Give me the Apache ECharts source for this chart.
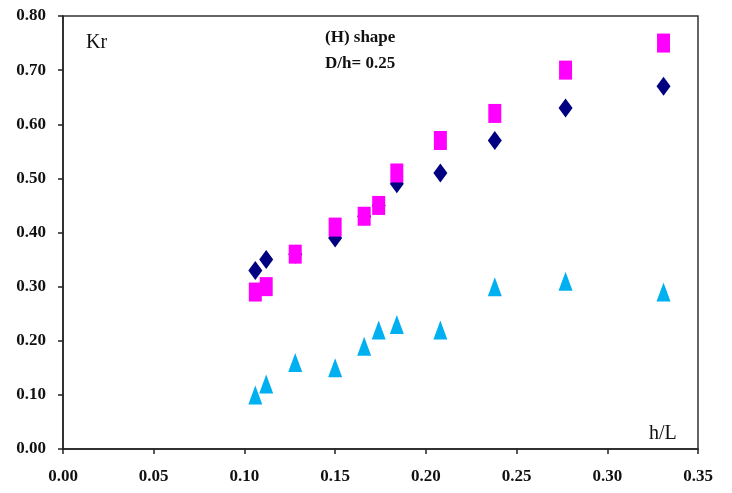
<!DOCTYPE html>
<html>
<head>
<meta charset="utf-8">
<script src="https://cdn.jsdelivr.net/npm/echarts@6/dist/echarts.min.js"></script>
<style>
  html, body { margin: 0; padding: 0; background: #fff; }
  #chart { width: 732px; height: 493px; }
</style>
</head>
<body>
<div id="chart"></div>
<script>
// h/L values shared by all three series
var hL = [0.106, 0.112, 0.128, 0.150, 0.166, 0.174, 0.184, 0.208, 0.238, 0.277, 0.331];
// Kr values (3rd, 5th, 6th diamonds sit behind the squares)
var krDiamond = [0.33, 0.35, 0.36, 0.39, 0.43, 0.45, 0.49, 0.51, 0.57, 0.63, 0.67];
var krSquare = [0.29, 0.30, 0.36, 0.41, 0.43, 0.45, 0.51, 0.57, 0.62, 0.70, 0.75];
var krTriangle = [0.10, 0.12, 0.16, 0.15, 0.19, 0.22, 0.23, 0.22, 0.30, 0.31, 0.29];

function pairs(ys) {
  return hL.map(function (x, i) { return [x, ys[i]]; });
}

var font = '"Liberation Serif", "DejaVu Serif", serif';
var chart = echarts.init(document.getElementById('chart'));

var option = {
  animation: false,
  grid: {
    left: 63, right: 34, top: 16, bottom: 44,
    show: true,
    borderColor: '#333',
    borderWidth: 1.5
  },
  xAxis: {
    type: 'value',
    min: 0, max: 0.35, interval: 0.05,
    axisLine: { show: true, lineStyle: { color: '#222', width: 1.5 } },
    axisTick: { show: true, inside: false, length: 5, lineStyle: { color: '#222', width: 1.5 } },
    axisLabel: {
      margin: 19,
      color: '#111',
      fontFamily: font,
      fontWeight: 'bold',
      fontSize: 17,
      formatter: function (v) { return v.toFixed(2); }
    },
    splitLine: { show: false }
  },
  yAxis: {
    type: 'value',
    min: 0, max: 0.8, interval: 0.1,
    axisLine: { show: true, lineStyle: { color: '#222', width: 1.5 } },
    axisTick: { show: true, inside: false, length: 5, lineStyle: { color: '#222', width: 1.5 } },
    axisLabel: {
      margin: 17,
      color: '#111',
      fontFamily: font,
      fontWeight: 'bold',
      fontSize: 17,
      formatter: function (v) { return v.toFixed(2); }
    },
    splitLine: { show: false }
  },
  graphic: [
    { type: 'text', left: 86, top: 33, style: { text: 'Kr', font: '20px ' + font, fill: '#111' } },
    { type: 'text', left: 325, top: 29, style: { text: '(H) shape', font: 'bold 17px ' + font, fill: '#111' } },
    { type: 'text', left: 325, top: 55, style: { text: 'D/h= 0.25', font: 'bold 17px ' + font, fill: '#111' } },
    { type: 'text', left: 649, top: 424, style: { text: 'h/L', font: '20px ' + font, fill: '#111' } }
  ],
  series: [
    {
      type: 'scatter',
      symbol: 'diamond',
      symbolSize: [14, 19],
      z: 2,
      itemStyle: { color: '#000080', opacity: 1 },
      data: pairs(krDiamond)
    },
    {
      type: 'scatter',
      symbol: 'rect',
      symbolSize: [13, 19],
      z: 3,
      itemStyle: { color: '#ff00ff', opacity: 1 },
      data: pairs(krSquare)
    },
    {
      type: 'scatter',
      symbol: 'triangle',
      symbolSize: [14, 19],
      z: 3,
      itemStyle: { color: '#00b0f0', opacity: 1 },
      data: pairs(krTriangle)
    }
  ]
};

chart.setOption(option);
</script>
</body>
</html>
